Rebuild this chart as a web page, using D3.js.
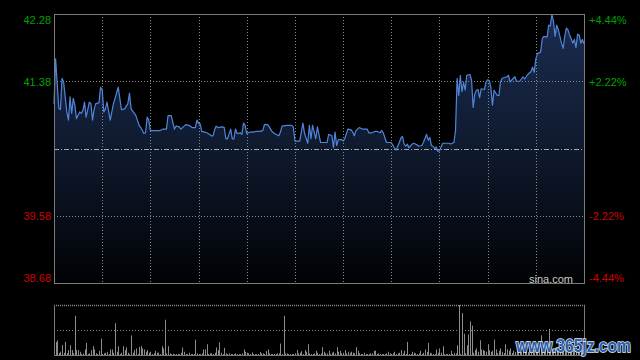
<!DOCTYPE html>
<html>
<head>
<meta charset="utf-8">
<script src="https://cdn.jsdelivr.net/npm/d3@7"></script>
<style>
  html, body { margin: 0; padding: 0; background: #000; }
  svg { display: block; font-family: "Liberation Sans", Arial, sans-serif; }
</style>
</head>
<body>
<div id="chart-area"></div>
<script>
// intraday minutes (0 = 9:30, 150 = lunch, 330 = 16:00) and prices
const minutes = [0,1,3,4,5,6,8,9,10,11,12,13,14,16,17,18,19,20,22,23,24,25,26,28,29,30,31,32,33,35,37,38,40,42,44,46,47,48,51,53,54,56,57,58,59,60,66,68,70,71,73,75,76,78,79,82,84,86,88,89,90,91,92,94,96,98,99,100,101,102,105,106,107,108,110,111,112,113,114,116,117,118,119,120,122,124,126,128,130,131,133,134,136,138,140,141,142,145,148,149,150,153,154,155,156,158,159,160,161,163,164,166,170,171,173,174,175,176,177,179,180,181,183,185,186,187,188,190,192,195,196,198,200,201,203,204,205,207,210,212,213,215,216,217,218,219,220,221,223,224,226,227,229,230,232,233,234,235,236,237,238,239,240,242,246,247,249,250,251,252,253,254,255,256,257,259,260,261,262,263,264,265,266,268,269,270,271,272,273,274,276,277,278,279,282,283,284,286,287,288,290,292,293,295,297,298,299,300,301,303,304,305,307,308,309,310,311,312,313,314,316,317,318,319,320,321,322,323,324,325,326,327,328,329,330];
const prices = [41.08,41.68,41.02,41.00,41.42,41.37,40.97,40.86,41.17,40.95,41.15,41.06,40.88,40.97,40.95,40.99,41.10,40.90,41.10,41.08,40.86,41.01,41.08,41.09,41.30,41.27,40.97,41.01,41.10,40.86,41.08,41.15,41.30,41.00,41.01,41.08,41.22,41.01,40.92,40.79,40.76,40.68,40.69,40.90,40.86,40.72,40.72,40.74,40.74,40.92,40.92,40.74,40.78,40.77,40.74,40.80,40.79,40.76,40.76,40.86,40.82,40.81,40.71,40.70,40.68,40.65,40.65,40.73,40.78,40.76,40.77,40.76,40.61,40.61,40.74,40.61,40.61,40.74,40.68,40.69,40.67,40.82,40.79,40.68,40.70,40.70,40.71,40.71,40.72,40.80,40.80,40.77,40.70,40.67,40.65,40.70,40.78,40.79,40.79,40.77,40.58,40.58,40.70,40.82,40.68,40.55,40.79,40.61,40.79,40.61,40.77,40.56,40.56,40.67,40.65,40.49,40.70,40.52,40.60,40.60,40.58,40.61,40.74,40.73,40.70,40.65,40.72,40.76,40.74,40.74,40.69,40.69,40.71,40.71,40.69,40.72,40.69,40.56,40.56,40.49,40.46,40.56,40.62,40.64,40.54,40.51,40.54,40.49,40.54,40.55,40.53,40.51,40.52,40.56,40.67,40.59,40.63,40.52,40.51,40.48,40.50,40.44,40.45,40.55,40.55,40.54,40.56,40.72,41.42,41.19,41.46,41.24,41.37,41.26,41.46,41.47,41.39,41.03,41.21,41.26,41.27,41.16,41.28,41.27,41.37,41.40,41.39,41.30,41.06,41.26,41.19,41.19,41.37,41.42,41.44,41.46,41.37,41.42,41.44,41.38,41.38,41.44,41.41,41.47,41.51,41.57,41.50,41.68,41.75,41.77,41.95,41.98,41.97,42.13,42.12,42.27,42.18,41.98,42.13,42.07,41.89,41.82,41.98,42.09,42.07,42.00,41.95,41.89,41.94,41.83,42.01,42.00,41.89,41.94,41.88];

// volume per minute, 0..330
const volumes = [8.3,13.3,15,2,3.3,10,2.3,13.3,2,5,10,5,2,40,5,5,3.3,1,1.7,5.7,12.3,1,1.7,5,9,5.7,1.7,1,4.3,16.7,1,1.7,2.3,3.3,1,5.7,5.7,2.3,32.3,3.3,9,1,2.3,9,5,7.7,2.3,1,20,2.3,5,6.7,1,8.3,9,6.7,5.7,3.3,5,2.3,3.3,1,1.7,4.3,2.3,2.3,1,9,6.7,36,1.7,9,1.7,1,1,1,1,1,1,2.3,7.7,3.3,1,1,2.3,1,1,1,15.7,1.7,1,1,1.7,5.7,5.7,11,1,1.7,1.7,1,2.3,7.7,5,13,2.3,1,7.3,1.7,1,1.7,1,1,1,1.7,1,1,1,1.7,5.7,3.3,2.3,1.7,1,2.7,1,1,1,1,3,1.7,1.7,1,4,5.7,1.7,1,1,1,1,1.7,1.7,11.7,1,40,1.7,1.7,1,1,1,1,1.7,5,1.7,2.3,4,1,5,3.3,11,1.7,1,1,1.7,4.3,2.3,1,1.7,8,3.3,1.7,1.7,4.3,1,2.3,3.3,1.7,8,3.3,4.3,1.7,2.3,5,1.7,3.3,2.3,3.3,2.3,1.7,8,4.3,1.7,1,1,2.3,1,1,1,1.7,1.7,4.3,4.3,1,1.7,1,1,1,1,1.7,3.3,1.7,1,1.7,3.3,1,1.7,2.3,5,1.7,4.3,1,13.3,1,1,3.3,2.3,1.7,1,1.7,4.3,1,2.3,5.7,3.3,12.3,2.3,1.7,1,1,5.7,2.3,6.7,2.3,9,1,1,1,1,4.3,1,2.3,1.7,10,51,1,42.7,21.7,1.7,10,21,34.3,30,2.3,5,6.7,3.3,15,5.7,5,4.3,3.3,11,5,3.3,4.3,15.7,5.7,2,4.3,6.7,3.3,2,11,5.7,4.3,6.7,2,4.3,3,5,4,6,3,5,4,7,3,5,4,6,5,8,4,6,20,9,4,6,5,26.7,8,6,5,7,4,6,5,8,4,6,5,7,4,5,6,4,5,3,6,4,5,6];

const preClose = 40.48;
const priceTicks = [42.28, 41.38, 39.58, 38.68];
const priceLabels = ["42.28", "41.38", "39.58", "38.68"];
const pctLabels = ["+4.44%", "+2.22%", "-2.22%", "-4.44%"];
const gridMinutes = [30,60,90,120,150,180,210,240,270,300];

const W = 640, H = 360;
const plot = {left: 54, right: 584, top: 14, bottom: 283};
const vol = {top: 305, bottom: 355};

const svg = d3.select("#chart-area")
  .append("svg")
    .attr("width", W)
    .attr("height", H);

svg.append("rect").attr("width", W).attr("height", H).attr("fill", "#000");

const x = d3.scaleLinear().domain([0, 330]).range([plot.left, plot.right]);
const y = d3.scaleLinear().domain([38.68, 42.28]).range([plot.bottom, plot.top]);
const yv = d3.scaleLinear().domain([0, d3.max(volumes)]).range([vol.bottom, vol.top]);

// gradient under the price line
const grad = svg.append("defs").append("linearGradient")
  .attr("id", "fill")
  .attr("gradientUnits", "userSpaceOnUse")
  .attr("x1", 0).attr("x2", 0)
  .attr("y1", plot.top).attr("y2", plot.bottom);
grad.append("stop").attr("offset", 0).attr("stop-color", "#1b2c50");
grad.append("stop").attr("offset", 0.5).attr("stop-color", "#0f1a2e");
grad.append("stop").attr("offset", 1).attr("stop-color", "#010204");

const pts = minutes.map((m, i) => [m, prices[i]]);

svg.append("path")
  .datum(pts)
  .attr("fill", "url(#fill)")
  .attr("d", d3.area().x(d => x(d[0])).y0(plot.bottom).y1(d => y(d[1])));

// grid
const grid = svg.append("g");
grid.selectAll(".vg")
  .data(gridMinutes)
  .join("line")
    .attr("x1", d => Math.round(x(d)) + 0.5).attr("x2", d => Math.round(x(d)) + 0.5)
    .attr("y1", plot.top).attr("y2", plot.bottom)
    .attr("stroke", "#8a8a8a").attr("stroke-dasharray", "1,2");

grid.selectAll(".hg")
  .data([41.38, 39.58])
  .join("line")
    .attr("x1", plot.left).attr("x2", plot.right)
    .attr("y1", d => Math.round(y(d)) + 0.5).attr("y2", d => Math.round(y(d)) + 0.5)
    .attr("stroke", "#8a8a8a").attr("stroke-dasharray", "1,2");

svg.append("line")
  .attr("x1", plot.left).attr("x2", plot.right)
  .attr("y1", Math.round(y(preClose)) + 0.5).attr("y2", Math.round(y(preClose)) + 0.5)
  .attr("stroke", "#a8a8a8").attr("stroke-dasharray", "5,2,1,2");

// price line
svg.append("path")
  .datum(pts)
  .attr("fill", "none")
  .attr("stroke", "#4f86dc")
  .attr("stroke-width", 1.2)
  .attr("stroke-linejoin", "round")
  .attr("d", d3.line().x(d => x(d[0])).y(d => y(d[1])));

// frame
svg.append("rect")
  .attr("x", plot.left + 0.5).attr("y", plot.top + 0.5)
  .attr("width", plot.right - plot.left).attr("height", plot.bottom - plot.top)
  .attr("fill", "none").attr("stroke", "#7a7a7a");

// price labels left and percent labels right
const up = "#00a000", down = "#d00000";
const labelY = [20, 82, 216, 278];
svg.selectAll(".pl")
  .data(priceTicks)
  .join("text")
    .attr("x", 51).attr("y", (d, i) => labelY[i])
    .attr("dy", "0.35em")
    .attr("text-anchor", "end")
    .attr("font-size", 11)
    .attr("fill", d => d > preClose ? up : down)
    .text((d, i) => priceLabels[i]);

svg.selectAll(".pr")
  .data(priceTicks)
  .join("text")
    .attr("x", 589).attr("y", (d, i) => labelY[i])
    .attr("dy", "0.35em")
    .attr("font-size", 11)
    .attr("fill", d => d > preClose ? up : down)
    .text((d, i) => pctLabels[i]);

svg.append("text")
  .attr("x", 573).attr("y", 283)
  .attr("text-anchor", "end")
  .attr("font-size", 11)
  .attr("fill", "#c8c8c8")
  .text("sina.com");

// volume panel
svg.append("line")
  .attr("x1", plot.left).attr("x2", plot.right + 1)
  .attr("y1", vol.top + 0.5).attr("y2", vol.top + 0.5)
  .attr("stroke", "#8a8a8a").attr("stroke-width", 1.5).attr("stroke-dasharray", "1,1");
svg.append("line")
  .attr("x1", plot.left).attr("x2", plot.right)
  .attr("y1", 330.5).attr("y2", 330.5)
  .attr("stroke", "#8a8a8a").attr("stroke-dasharray", "1,2");

svg.append("g")
  .selectAll("line")
  .data(volumes)
  .join("line")
    .attr("x1", (d, i) => Math.round(x(i)) + 0.5)
    .attr("x2", (d, i) => Math.round(x(i)) + 0.5)
    .attr("y1", vol.bottom)
    .attr("y2", d => yv(d))
    .attr("stroke", "#8c8c8c");

svg.append("path")
  .attr("d", `M${plot.left + 0.5},${vol.top} V${vol.bottom + 0.5} H${plot.right + 0.5} V${vol.top}`)
  .attr("fill", "none").attr("stroke", "#7a7a7a");

// site watermark
svg.append("text")
  .attr("x", 516).attr("y", 352)
  .attr("font-size", 19)
  .attr("font-weight", "bold")
  .attr("textLength", 115)
  .attr("lengthAdjust", "spacingAndGlyphs")
  .attr("fill", "#2d5ea8")
  .attr("stroke", "#dfe9f7")
  .attr("stroke-width", 1.6)
  .attr("paint-order", "stroke")
  .text("www.365jz.com");
</script>
</body>
</html>
